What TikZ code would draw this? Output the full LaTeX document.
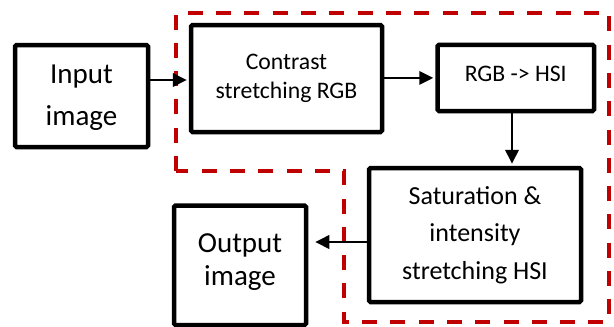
\documentclass[tikz,border=0pt]{standalone}
\usepackage{fontspec}
\setmainfont{Carlito}
\usetikzlibrary{arrows.meta}
\definecolor{grpred}{HTML}{C00000}
\begin{document}
\begin{tikzpicture}[x=1pt,y=-1pt,
  blk/.style={draw, line width=4.5pt, rounded corners=1.5pt, inner sep=0pt, align=center, anchor=center},
  arr/.style={line width=2pt, -{Triangle[length=14pt,width=13.5pt]}, shorten >=2pt},
  grp/.style={draw=grpred, line width=4.3pt, dash pattern=on 15pt off 13.3pt}]
\useasboundingbox (0,0) rectangle (614,327);
\draw[grp] (176,171) -- (176,13) -- (609,13) -- (609,322) -- (344,322) -- (344,171) -- cycle;
\node[blk, minimum width=133pt, minimum height=102pt, text height=64.5pt, font=\fontsize{29}{42}\selectfont] (in) at (81.5,96) {Input\\image};
\node[blk, minimum width=191pt, minimum height=107pt, font=\fontsize{23.7}{29}\selectfont] (cs) at (286.5,78.5) {Contrast\\stretching RGB};
\node[blk, minimum width=156.5pt, minimum height=66.3pt, text depth=8pt, font=\fontsize{23.7}{29}\selectfont] (rgb) at (515.75,77.9) {RGB -> HSI};
\node[blk, minimum width=212pt, minimum height=134pt, font=\fontsize{26}{37.5}\selectfont] (sat) at (475,235) {Saturation \&\\intensity\\stretching HSI};
\node[blk, minimum width=132pt, minimum height=119.5pt, text depth=11pt, font=\fontsize{29}{33}\selectfont] (out) at (240,265.25) {Output\\image};
\draw[arr] (in.east |- 0,80) -- (cs.west |- 0,80);
\draw[arr] (cs.east |- rgb.west) -- (rgb.west);
\draw[arr] (rgb.south -| 512,0) -- (sat.north -| 512,0);
\draw[arr, shorten >=7pt] (sat.west |- 0,242) -- (out.east |- 0,242);
\end{tikzpicture}
\end{document}
